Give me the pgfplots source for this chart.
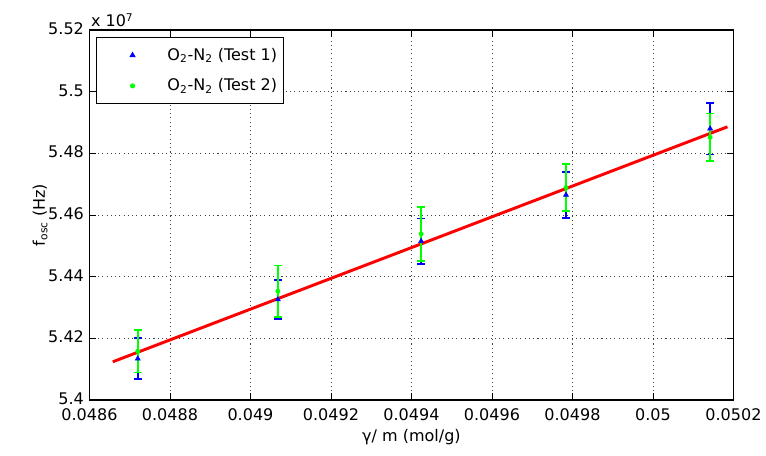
\documentclass[border=0pt]{standalone}
\usepackage{pgfplots}
\pgfplotsset{compat=1.18}
\usepackage{fontspec}
\setmainfont{DejaVu Sans}
\pgfplotstableread{
x y e
0.04872 5.4134 0.0066
0.049068 5.4326 0.0063
0.049424 5.4515 0.0074
0.049784 5.4665 0.0075
0.050142 5.4880 0.0084
}\testone
\pgfplotstableread{
x y e
0.04872 5.4158 0.0069
0.049068 5.4353 0.0083
0.049424 5.4539 0.0088
0.049784 5.4689 0.0076
0.050142 5.4852 0.0077
}\testtwo
\begin{document}
\fontsize{12pt}{14.4pt}\selectfont
\begin{tikzpicture}
\begin{axis}[
  scale only axis, width=483pt, height=277.5pt,
  xmin=0.0486, xmax=0.0502, ymin=5.4, ymax=5.52,
  xtick={0.0486,0.0488,0.049,0.0492,0.0494,0.0496,0.0498,0.05,0.0502},
  xticklabels={0.0486,0.0488,0.049,0.0492,0.0494,0.0496,0.0498,0.05,0.0502},
  ytick={5.4,5.42,5.44,5.46,5.48,5.5,5.52},
  yticklabels={5.4,5.42,5.44,5.46,5.48,5.5,5.52},
  scaled x ticks=false, scaled y ticks=false,
  /pgf/number format/assume math mode=true,
  xticklabel style={yshift=-2pt},
  yticklabel style={yshift=1pt},
  tick align=inside, tick pos=both, major tick length=5pt,
  grid=major,
  grid style={black!75, dash pattern=on 0.8pt off 2.4pt, line width=0.6pt},
  axis line style={line width=0.8pt},
  tick style={black, line width=0.6pt},
  xlabel={γ/ m (mol/g)},
  ylabel={f\textsubscript{\fontsize{8pt}{9pt}\selectfont osc} (Hz)},
  xlabel style={at={(axis description cs:0.5,-0.1)}, anchor=center},
  ylabel style={at={(axis description cs:-0.0766,0.5)}, anchor=center},
  legend style={at={(0.01,0.981)}, anchor=north west, draw=black, line width=0.6pt,
    row sep=8pt, inner ysep=6pt, inner xsep=3pt, fill=white},
  legend cell align=left,
  legend image code/.code={\path[mark repeat=2,mark phase=2] plot coordinates {(0cm,0cm)(0.85cm,0cm)(1.7cm,0cm)};},
]
\addplot[red, line width=2.2pt, forget plot] coordinates {(0.048658,5.4124) (0.050185,5.4886)};
\addplot[draw=none, mark=triangle*, mark size=2.2pt, mark options={draw=blue, fill=blue},
  error bars/.cd, y dir=both, y explicit,
  error bar style={line width=1.3pt, blue},
  error mark options={blue, mark size=2.9pt, line width=1.3pt, rotate=90}]
  table[x=x, y=y, y error=e] {\testone};
\addlegendentry{O\textsubscript{2}-N\textsubscript{2} (Test 1)}
\addplot[draw=none, mark=*, mark size=1.6pt, mark options={draw=green, fill=green},
  error bars/.cd, y dir=both, y explicit,
  error bar style={line width=1.3pt, green},
  error mark options={green, mark size=2.9pt, line width=1.3pt, rotate=90}]
  table[x=x, y=y, y error=e] {\testtwo};
\addlegendentry{O\textsubscript{2}-N\textsubscript{2} (Test 2)}
\coordinate (sw) at (rel axis cs:0,0);
\coordinate (ne) at (rel axis cs:1,1);
\end{axis}
\node[anchor=south west, inner sep=1pt, yshift=1pt] at (sw |- ne) {x 10\textsuperscript{7}};
\pgfresetboundingbox
\path[use as bounding box] ([shift={(-67.1pt,-41.25pt)}]sw) rectangle ([shift={(24.4pt,22.5pt)}]ne);
\end{tikzpicture}
\end{document}
